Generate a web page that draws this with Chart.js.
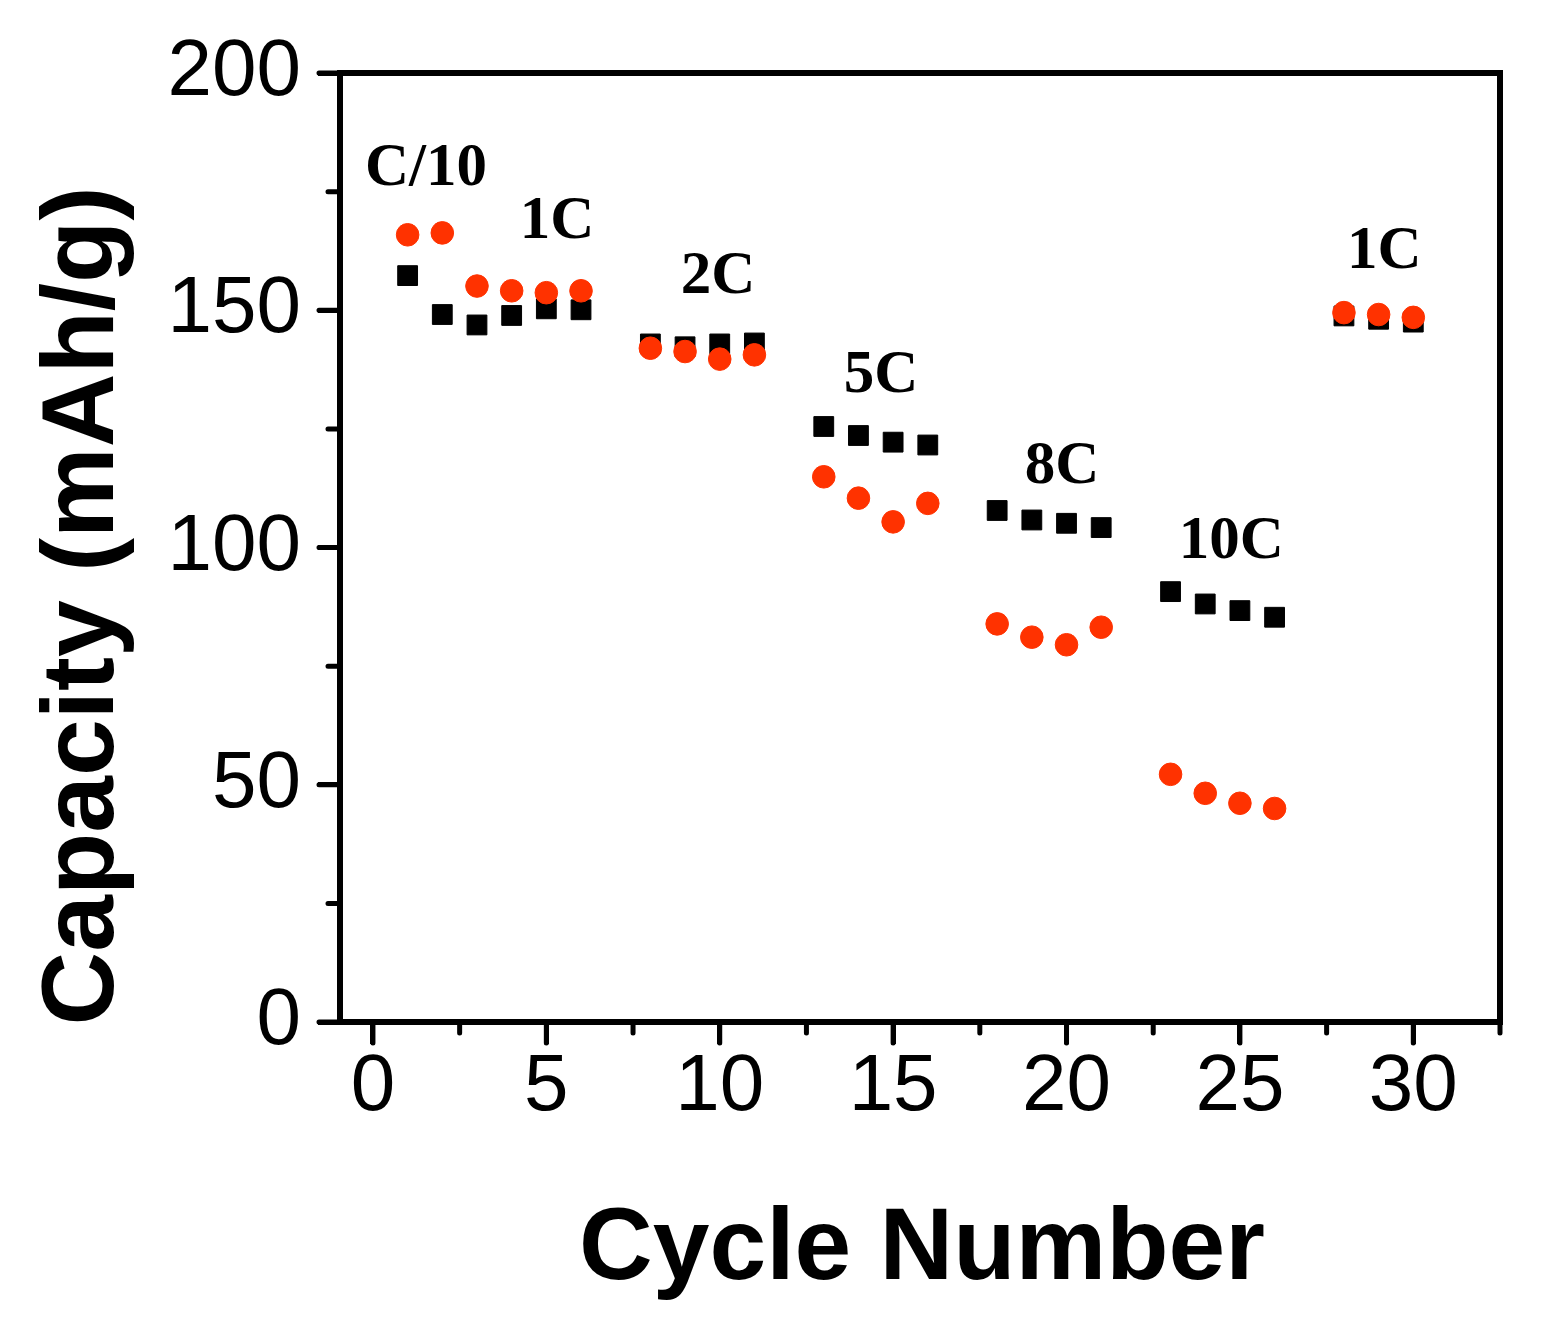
<!DOCTYPE html>
<html>
<head>
<meta charset="utf-8">
<script src="https://cdn.jsdelivr.net/npm/chart.js@4"></script>
<style>
  html, body { margin: 0; padding: 0; background: #ffffff; }
  #wrap { width: 1541px; height: 1332px; }
</style>
</head>
<body>
<div id="wrap"><canvas id="c" width="1541" height="1332"></canvas></div>
<script>
// ---- data ----
const cycles = [1,2,3,4,5,6, 8,9,10,11, 13,14,15,16, 18,19,20,21, 23,24,25,26, 28,29,30];
const capacityBlack = [157.3,149.1,146.9,148.9,150.3,150.1, 142.9,142.3,142.9,143.1, 125.5,123.6,122.2,121.6, 107.8,105.8,105.1,104.2, 90.7,88.1,86.7,85.3, 148.8,148.1,147.5];
const capacityRed = [165.9,166.3,155.1,154.1,153.7,154.1, 142.0,141.3,139.7,140.6, 114.9,110.4,105.4,109.3, 83.9,81.1,79.5,83.2, 52.2,48.2,46.1,45.0, 149.5,149.1,148.5];

const xTicks = [0,5,10,15,20,25,30];
const xMinorTicks = [2.5,7.5,12.5,17.5,22.5,27.5,32.5];
const yTicks = [0,50,100,150,200];
const yMinorTicks = [25,75,125,175];

const rateLabels = ['C/10','1C','2C','5C','8C','10C','1C'];
const rateLabelX = [1.53, 5.31, 9.95, 14.65, 19.87, 24.75, 29.16];
const rateLabelY = [176.4, 165.2, 153.6, 132.8, 113.6, 97.8, 158.9];

const xTitle = 'Cycle Number';
const yTitle = 'Capacity (mAh/g)';

// ---- plugin: frame, tick marks, annotations, titles ----
const decor = {
  id: 'decor',
  afterDraw(chart) {
    const ctx = chart.ctx;
    const a = chart.chartArea;
    const xs = chart.scales.x, ys = chart.scales.y;
    ctx.save();
    ctx.strokeStyle = '#000';
    ctx.lineWidth = 6;
    ctx.lineJoin = 'miter';
    ctx.strokeRect(a.left, a.top, a.right - a.left, a.bottom - a.top);
    ctx.lineWidth = 5;
    ctx.lineCap = 'round';
    ctx.beginPath();
    // major ticks
    xTicks.forEach(v => {
      const px = xs.getPixelForValue(v);
      ctx.moveTo(px, a.bottom);
      ctx.lineTo(px, a.bottom + 21);
    });
    yTicks.forEach(v => {
      const py = ys.getPixelForValue(v);
      ctx.moveTo(a.left, py);
      ctx.lineTo(a.left - 21, py);
    });
    // minor ticks
    xMinorTicks.forEach(v => {
      const px = xs.getPixelForValue(v);
      ctx.moveTo(px, a.bottom);
      ctx.lineTo(px, a.bottom + 11);
    });
    yMinorTicks.forEach(v => {
      const py = ys.getPixelForValue(v);
      ctx.moveTo(a.left, py);
      ctx.lineTo(a.left - 12, py);
    });
    ctx.stroke();
    // rate annotations
    ctx.fillStyle = '#000';
    ctx.font = 'bold 61px "Liberation Serif", "Times New Roman", serif';
    ctx.textAlign = 'center';
    ctx.textBaseline = 'alphabetic';
    rateLabels.forEach((t, i) => {
      ctx.fillText(t, xs.getPixelForValue(rateLabelX[i]), ys.getPixelForValue(rateLabelY[i]));
    });
    // axis titles
    ctx.font = 'bold 102px "Liberation Sans", Arial, sans-serif';
    ctx.fillText(xTitle, (a.left + a.right) / 2 + 2, a.bottom + 257);
    ctx.translate(a.left - 227, a.bottom - 416);
    ctx.rotate(-Math.PI / 2);
    ctx.fillText(yTitle, 0, 0);
    ctx.restore();
  }
};

const tickFont = { family: '"Liberation Sans", Arial, sans-serif', size: 80, lineHeight: 1.1 };

new Chart(document.getElementById('c'), {
  type: 'scatter',
  data: {
    datasets: [
      {
        label: 'black',
        data: cycles.map((c, i) => ({ x: c, y: capacityBlack[i] })),
        pointStyle: 'rect',
        pointRadius: 14,
        pointBackgroundColor: '#000000',
        pointBorderColor: '#000000',
        pointBorderWidth: 1,
        showLine: false,
        order: 1
      },
      {
        label: 'red',
        data: cycles.map((c, i) => ({ x: c, y: capacityRed[i] })),
        pointStyle: 'circle',
        pointRadius: 11.3,
        pointBackgroundColor: 'rgb(255,50,0)',
        pointBorderColor: 'rgb(255,50,0)',
        pointBorderWidth: 1,
        showLine: false,
        order: 0
      }
    ]
  },
  options: {
    responsive: false,
    animation: false,
    devicePixelRatio: 1,
    layout: { padding: { left: 0, top: 73, right: 41, bottom: 0 } },
    plugins: {
      legend: { display: false },
      tooltip: { enabled: false }
    },
    scales: {
      x: {
        type: 'linear',
        position: 'bottom',
        min: -0.95,
        max: 32.5,
        afterBuildTicks: s => { s.ticks = xTicks.map(v => ({ value: v })); },
        afterFit: s => { s.height = 310; },
        border: { display: false },
        grid: { drawOnChartArea: false, drawTicks: true, tickLength: 22, lineWidth: 5, tickWidth: 5, tickColor: '#000' },
        ticks: { color: '#000', font: tickFont, padding: 0, maxRotation: 0, autoSkip: false }
      },
      y: {
        type: 'linear',
        position: 'left',
        min: 0,
        max: 200,
        afterBuildTicks: s => { s.ticks = yTicks.map(v => ({ value: v })); },
        afterFit: s => { s.width = 340; },
        border: { display: false },
        grid: { drawOnChartArea: false, drawTicks: true, tickLength: 22, lineWidth: 5, tickWidth: 5, tickColor: '#000' },
        ticks: { color: '#000', font: tickFont, padding: 17, autoSkip: false }
      }
    }
  },
  plugins: [decor]
});
</script>
</body>
</html>
